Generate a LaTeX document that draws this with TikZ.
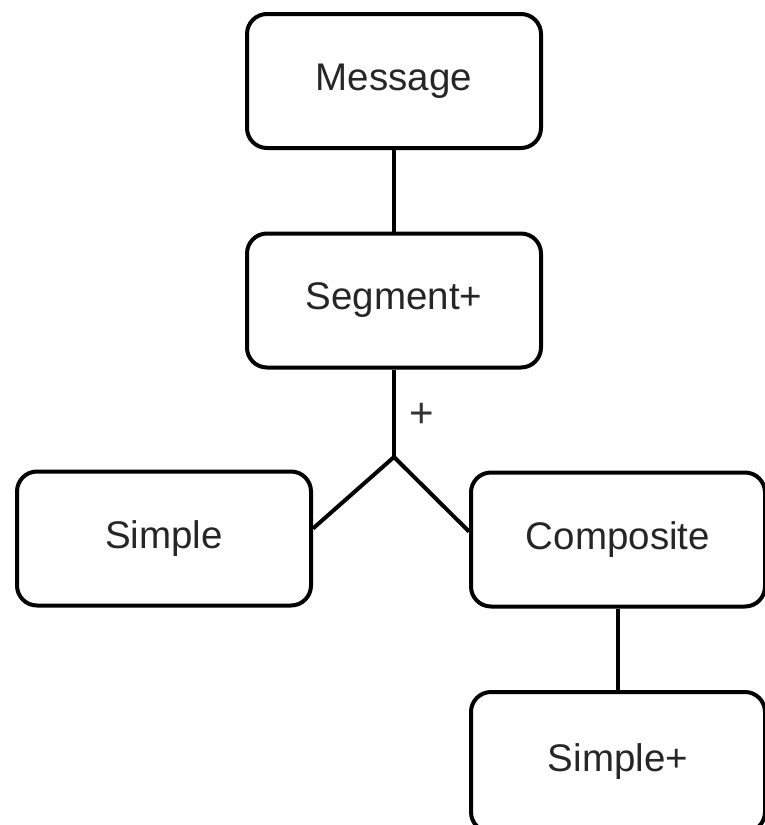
\documentclass[tikz,border=0pt]{standalone}
\usepackage{fontspec}
\setmainfont{Liberation Sans}
\begin{document}
\begin{tikzpicture}[x=1pt,y=-1pt,
  box/.style={draw=black, line width=4pt, rounded corners=20pt, minimum width=294pt, minimum height=134pt, inner sep=0pt, font=\fontsize{38.5}{42}\selectfont, text=black!85},
  link/.style={draw=black, line width=4pt}]
\useasboundingbox (0,0) rectangle (765,825);
\clip (0,0) rectangle (765,825);
\node[box] (msg) at (394,81) {Message};
\node[box] (seg) at (394,300.5) {Segment+};
\node[box] (simple) at (164,538.5) {Simple};
\node[box] (comp) at (618,539.5) {Composite};
\node[box, minimum height=140pt] (simplep) at (618,762) {Simple+};
\coordinate (j) at (394,457);
\node[font=\fontsize{42}{46}\selectfont, text=black!80] (plus) at (422,415) {+};
\draw[link] (msg.south) -- (seg.north);
\draw[link] (seg.south) -- (j);
\draw[link, line join=round] ([yshift=10pt]simple.east) -- (j) -- ([yshift=8pt]comp.west);
\draw[link] (comp.south) -- (simplep.north);
\end{tikzpicture}
\end{document}
